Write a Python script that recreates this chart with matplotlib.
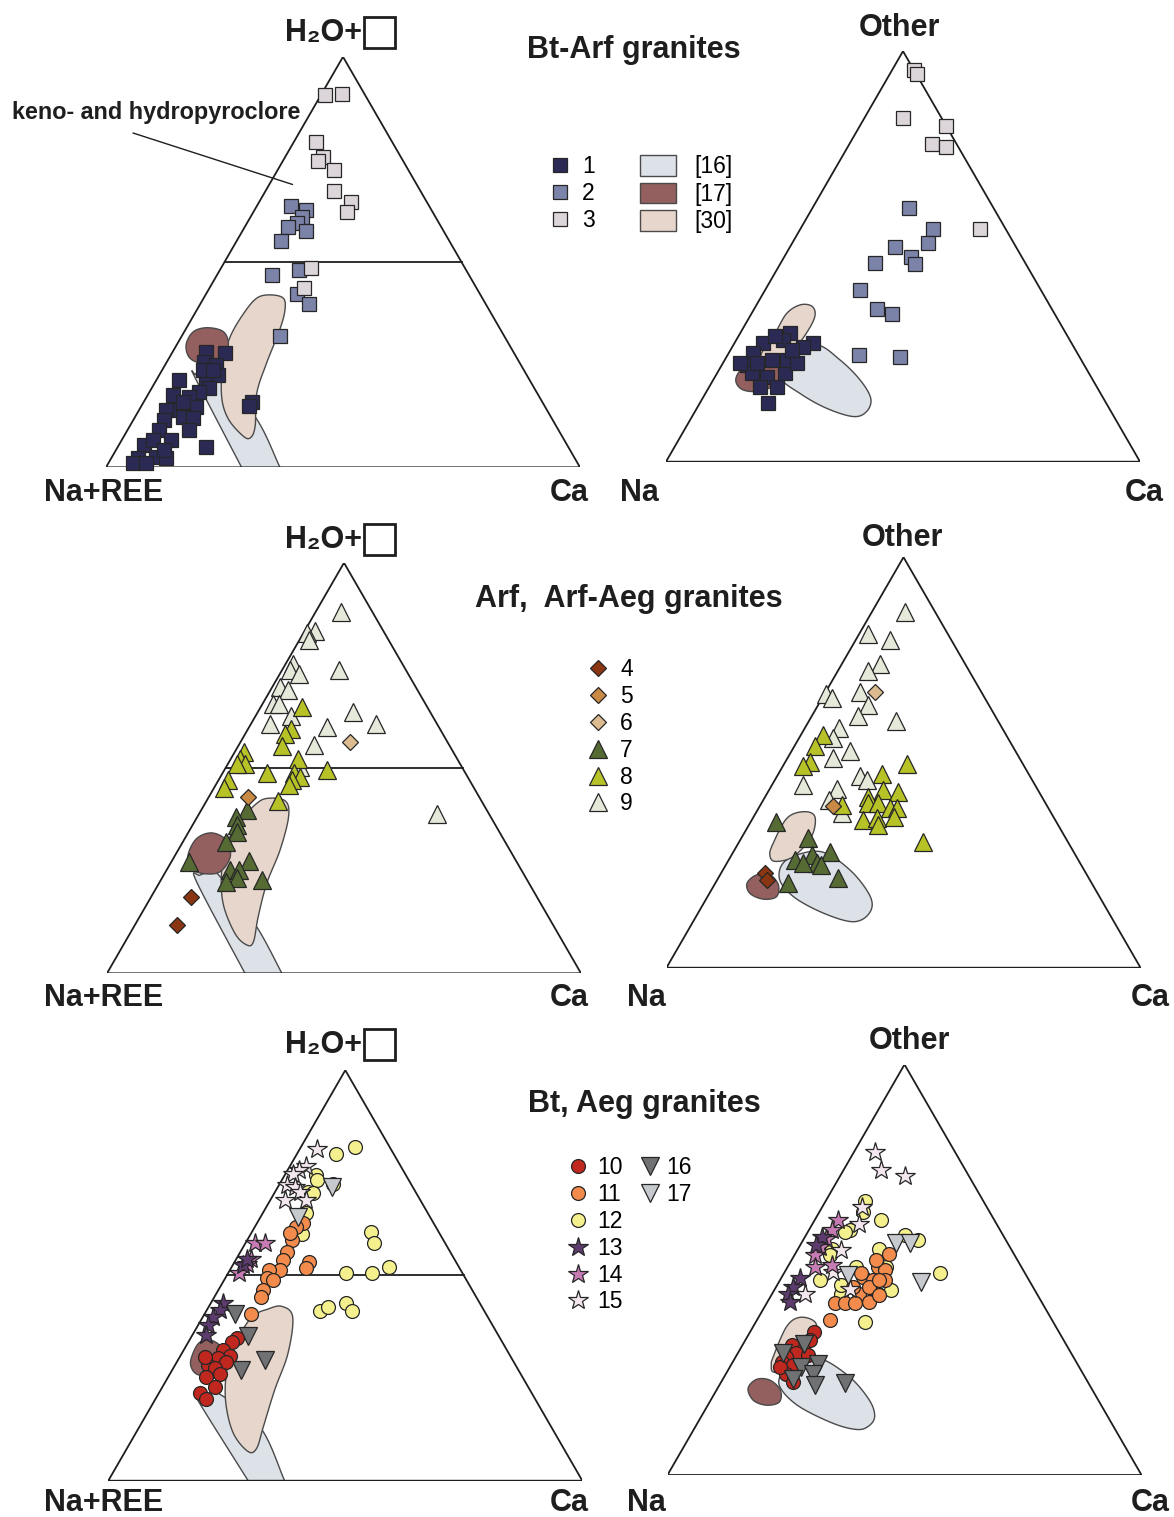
import numpy as np
import matplotlib.pyplot as plt
from matplotlib.lines import Line2D
from matplotlib.patches import Patch, Polygon, Rectangle

plt.rcParams['font.family'] = ['Liberation Sans', 'DejaVu Sans']

# ---------------------------------------------------------------
# Ternary compositions, each point = (Ca %, top apex %);
# the left apex (Na+REE or Na) is the remainder.
# ---------------------------------------------------------------

# Bt-Arf granites, Na+REE - Ca - H2O+vacancy
a1 = [(7.0, 28.2), (11.1, 27.8), (7.85, 25.7), (10.75, 24.9), (4.85, 21.3), (10.45, 21.3),
      (12.35, 22.5), (12.2, 19.2), (10.5, 18.4), (5.3, 17.6), (9.0, 17.2), (11.6, 14.8),
      (8.1, 14.0), (5.7, 14.0), (6.55, 11.5), (10.05, 12.3), (12.35, 11.9), (13.05, 9.1),
      (6.7, 9.1), (10.4, 6.65), (5.4, 5.4), (9.2, 2.6), (11.6, 2.2), (5.6, 2.2), (5.1, 1.0),
      (7.9, 1.0), (18.6, 5.0), (22.9, 16.0), (22.75, 14.9), (6.5, 6.65), (10.2, 4.2),
      (8.2, 16.0), (8.55, 23.7), (10.65, 23.7)]
a2 = [(7.2, 63.7), (10.8, 62.6), (10.9, 60.9), (10.4, 59.6), (9.2, 58.6), (13.3, 57.6),
      (9.3, 55.2), (11.6, 46.9), (16.7, 48.1), (19.3, 42.2), (22.9, 39.8), (20.7, 32.0)]
a3 = [(0.9, 90.7), (4.3, 90.9), (4.7, 79.2), (8.0, 75.5), (7.4, 74.7), (12.0, 72.4),
      (14.5, 67.4), (19.3, 64.6), (19.6, 62.3), (19.1, 48.5), (19.9, 43.6)]
a_f16 = [(33.4, -5), (41.3, -5), (36.7, 0), (25.3, 12.3), (11.9, 22.1), (10.3, 23.3),
         (8.0, 23.7), (7.6, 22.6), (8.0, 21.7), (28.6, 0)]
a_f17 = [(2.0, 29.8), (1.9, 33.0), (4.4, 34.0), (8.3, 33.0), (10.9, 29.8), (11.3, 26.1),
         (7.9, 25.3), (4.4, 26.6)]
a_f30 = [(13.6, 42.0), (16.8, 41.2), (18.6, 38.3), (19.9, 33.5), (21.2, 25.3), (22.8, 18.0),
         (26.5, 9.9), (26.8, 7.1), (24.7, 7.9), (19.8, 11.9), (15.8, 17.2), (12.0, 25.3),
         (10.3, 31.8), (10.3, 37.5), (11.2, 41.2)]
keno_pointer = (4.9, 68.9)

# Bt-Arf granites, Na - Ca - Other
b1 = [(14.5, 14.2), (10.5, 31.3), (16.7, 28.8), (9.9, 29.6), (6.1, 28.8), (5.2, 26.4),
      (5.2, 23.6), (7.35, 21.5), (10.9, 20.7), (14.2, 18.3), (14.4, 21.5), (9.9, 24.8),
      (13.1, 24.8), (15.6, 24.0), (15.0, 28.0), (10.65, 18.3), (12.9, 27.2), (3.6, 24.0),
      (7.1, 24.0), (7.75, 30.5)]
b2 = [(20.4, 61.7), (28.0, 56.6), (28.6, 53.2), (22.2, 52.4), (26.7, 49.9), (28.5, 48.2),
      (19.9, 48.5), (20.0, 41.8), (26.0, 37.1), (29.7, 36.0), (27.8, 26.0), (36.6, 25.6)]
b3 = [(4.6, 95.4), (5.7, 94.4), (8.0, 83.8), (18.1, 81.9), (17.5, 77.3), (20.7, 76.7),
      (37.9, 56.7)]
b_f16 = [(17.6, 28.4), (24.3, 24.8), (31.0, 19.9), (35.5, 15.4), (36.2, 12.2), (34.0, 11.0),
         (27.4, 13.0), (20.0, 16.6), (13.7, 20.7), (13.4, 25.6)]
b_f17 = [(4.5, 22.0), (6.0, 25.0), (10.0, 25.5), (13.5, 22.5), (14.0, 19.0), (11.0, 17.2),
         (7.5, 17.5), (5.0, 19.5)]
b_f30 = [(7.35, 31.3), (7.4, 36.1), (9.2, 38.2), (11.8, 37.9), (13.6, 35.7), (14.0, 32.1),
         (13.3, 27.2), (11.1, 23.1), (7.8, 24.0), (6.9, 27.2)]

# Arf, Arf-Aeg granites, Na+REE - Ca - H2O+vacancy
c4 = [(8.45, 18.7), (8.8, 11.8)]
c5 = [(8.3, 43.0)]
c6 = [(23.0, 56.4)]
c7 = [(9.65, 39.7), (8.15, 38.1), (9.35, 36.1), (10.15, 34.5), (9.1, 32.0), (3.7, 27.2),
      (16.35, 27.3), (13.45, 25.1), (15.35, 25.1), (15.85, 23.1), (13.95, 22.3), (21.35, 22.7)]
c8 = [(8.65, 64.9), (9.1, 59.6), (8.4, 58.4), (9.25, 55.3), (14.15, 52.3), (1.85, 53.9),
      (1.95, 52.3), (3.55, 51.1), (1.85, 51.1), (9.3, 48.8), (15.0, 48.8), (16.85, 47.9),
      (15.6, 47.0), (15.35, 45.9), (21.65, 49.5), (2.0, 47.2), (2.1, 45.2), (15.05, 41.9)]
c9 = [(5.4, 88.0), (2.2, 83.5), (0.75, 82.9), (2.05, 81.3), (12.0, 74.0), (1.5, 75.4),
      (1.7, 73.8), (4.0, 73.0), (1.6, 69.8), (3.6, 69.0), (2.15, 65.7), (3.45, 65.7),
      (7.45, 62.7), (4.0, 60.8), (20.15, 63.7), (16.35, 60.1), (26.3, 60.8), (15.75, 55.7),
      (15.6, 50.3), (50.25, 38.9)]
c_f16 = [(33.9, -5), (41.75, -5), (36.9, 0), (25.9, 11.35), (12.65, 23.1), (9.85, 24.5),
         (7.65, 23.9), (7.75, 22.3), (29.1, 0)]
c_f17 = [(2.7, 28.8), (2.5, 32.8), (5.0, 34.2), (9.0, 32.4), (11.8, 28.4), (11.45, 24.7),
         (8.15, 24.3), (5.05, 25.5)]
c_f30 = [(12.4, 42.6), (16.6, 42.0), (19.25, 38.1), (21.5, 30.0), (22.75, 21.9), (25.0, 13.8),
         (27.05, 7.7), (26.05, 6.9), (22.15, 9.7), (16.0, 17.0), (11.65, 25.1), (9.4, 32.4),
         (9.75, 37.3), (10.7, 41.0)]

# Arf, Arf-Aeg granites, Na - Ca - Other
d4 = [(9.3, 23.0), (10.6, 21.4)]
d5 = [(15.45, 39.3)]
d6 = [(10.45, 67.1)]
d7 = [(5.4, 35.6), (14.05, 31.5), (13.95, 26.3), (16.85, 27.5), (19.0, 25.4), (20.35, 28.3),
      (16.2, 25.4), (15.4, 20.6), (25.2, 21.8), (20.2, 25.0)]
d8 = [(4.75, 56.7), (4.35, 53.9), (5.2, 50.2), (4.1, 49.2), (21.8, 47.2), (25.9, 49.6),
      (23.95, 43.3), (27.45, 42.9), (21.75, 41.7), (22.55, 40.1), (24.65, 40.1), (27.75, 38.9),
      (29.15, 38.9), (23.5, 36.0), (26.2, 36.4), (27.3, 34.8), (29.5, 36.8), (17.15, 39.7),
      (38.85, 30.7)]
d9 = [(7.1, 86.6), (1.95, 81.3), (7.3, 79.8), (8.05, 74.1), (6.5, 72.2), (0.3, 66.7),
      (2.05, 65.7), (7.25, 67.1), (10.55, 64.1), (9.8, 61.2), (18.4, 60.2), (7.1, 58.4),
      (7.25, 55.9), (12.35, 52.7), (9.65, 51.1), (6.6, 44.6), (17.5, 46.6), (19.4, 45.8),
      (14.15, 43.5), (13.75, 40.9), (18.2, 37.6)]
d_f16 = [(12.25, 26.3), (18.25, 28.3), (26.8, 23.8), (34.35, 17.3), (36.15, 13.3),
         (33.8, 11.2), (26.45, 13.3), (18.15, 17.3), (12.9, 21.8)]
d_f17 = [(6.7, 20.6), (7.7, 22.6), (10.5, 22.6), (13.5, 20.2), (14.55, 17.3), (12.05, 16.7),
         (8.55, 18.1)]
d_f30 = [(7.35, 30.3), (7.2, 36.4), (9.9, 38.0), (12.9, 36.8), (14.6, 32.0), (13.25, 27.1),
         (9.95, 25.9), (8.05, 27.5)]

# Bt, Aeg granites, Na+REE - Ca - H2O+vacancy
e10 = [(9.75, 34.7), (9.1, 33.8), (8.3, 31.8), (10.5, 30.4), (8.2, 30.0), (10.4, 29.0),
       (7.0, 28.2), (8.8, 27.4), (10.45, 26.1), (8.05, 25.3), (11.05, 22.9), (8.65, 21.3),
       (10.6, 20.0), (5.3, 30.2)]
e11 = [(9.75, 62.7), (8.75, 61.9), (9.4, 58.6), (9.7, 55.8), (10.05, 53.7), (10.55, 51.3),
       (8.25, 51.3), (8.75, 49.3), (10.35, 48.9), (9.5, 46.4), (9.9, 44.8), (15.75, 53.3),
       (15.95, 51.7), (9.9, 40.6), (8.15, 60.3)]
e12 = [(8.15, 79.7), (11.4, 81.2), (6.7, 74.4), (7.5, 73.2), (11.2, 72.4), (7.0, 70.4),
       (8.2, 70.0), (9.25, 65.1), (10.7, 60.2), (25.2, 60.6), (27.1, 57.8), (33.15, 52.1),
       (24.85, 50.5), (30.25, 50.7), (23.9, 41.4), (25.2, 42.4), (28.45, 43.3), (30.7, 41.4)]
e13 = [(2.25, 52.5), (2.15, 54.1), (2.6, 43.2), (2.7, 41.6), (2.15, 39.9), (2.15, 37.9),
       (2.95, 35.5)]
e14 = [(1.9, 58.0), (4.0, 58.0), (3.15, 54.1), (2.75, 52.9), (2.35, 50.5)]
e15 = [(3.75, 80.7), (3.5, 76.6), (2.4, 75.6), (1.5, 74.8), (1.6, 72.0), (3.6, 71.6),
       (5.2, 70.4), (2.95, 68.5), (7.55, 68.3)]
e16 = [(6.35, 40.7), (11.9, 35.2), (18.3, 29.4), (14.65, 26.9)]
e17 = [(11.3, 71.6), (7.95, 64.3)]
e_f16 = [(34.7, -5), (41.7, -5), (37.2, 0), (25.45, 13.1), (12.55, 21.3), (10.25, 20.9),
         (9.4, 19.8), (9.9, 18.8), (29.5, 0)]
e_f17 = [(2.7, 29.4), (2.3, 33.4), (4.25, 34.3), (7.5, 32.5), (8.7, 29.0), (8.75, 26.1),
         (6.45, 25.7), (4.35, 26.9)]
e_f30 = [(12.55, 41.7), (15.25, 42.5), (18.95, 39.9), (22.4, 31.0), (24.05, 22.1),
         (26.15, 13.1), (27.35, 7.9), (25.95, 7.1), (20.65, 11.5), (15.4, 18.8), (11.85, 26.1),
         (10.1, 32.6), (10.05, 38.3), (10.95, 40.7)]

# Bt, Aeg granites, Na - Ca - Other
f10 = [(13.45, 34.9), (13.6, 32.8), (10.4, 31.6), (13.4, 30.4), (12.4, 29.6), (10.7, 28.8),
       (15.1, 29.2), (10.3, 27.6), (13.1, 26.8), (12.75, 24.7), (15.15, 22.7), (10.5, 26.4)]
f11 = [(19.85, 53.9), (19.05, 50.7), (20.85, 49.9), (17.05, 48.3), (22.1, 47.4), (19.6, 47.4),
       (22.3, 44.2), (18.4, 44.2), (19.7, 45.8), (16.2, 45.8), (14.4, 41.8), (16.5, 41.8),
       (18.6, 41.8), (21.5, 42.2), (22.8, 43.8), (15.35, 37.7), (16.35, 49.1), (21.0, 47.4),
       (17.85, 52.3)]
f12 = [(8.25, 66.7), (9.15, 64.1), (14.1, 62.0), (8.6, 59.6), (7.8, 59.2), (7.05, 55.1),
       (7.45, 53.5), (17.15, 55.1), (20.8, 58.4), (24.2, 57.2), (14.45, 50.7), (8.4, 47.4),
       (14.6, 44.2), (24.7, 45.0), (32.85, 49.1), (22.95, 37.3), (20.75, 50.7), (13.6, 46.2)]
f13 = [(3.95, 47.9), (3.6, 45.8), (3.4, 44.2), (4.7, 42.2), (3.5, 58.0), (3.4, 56.0)]
f14 = [(4.9, 62.2), (4.8, 59.6), (4.7, 57.6), (4.3, 55.6), (4.35, 53.5), (5.75, 50.7),
       (9.05, 51.1)]
f15 = [(4.35, 78.7), (7.9, 74.4), (13.8, 72.8), (8.45, 65.3), (9.8, 61.2), (9.35, 54.7),
       (10.15, 49.5), (15.7, 45.4), (7.0, 44.0)]
f16 = [(12.8, 32.0), (9.6, 29.6), (14.9, 26.4), (18.3, 27.0), (18.25, 24.7), (14.75, 23.5),
       (20.15, 21.9), (26.25, 22.3)]
f17 = [(20.0, 56.4), (22.9, 56.4), (13.75, 48.7), (30.0, 47.0)]
f_f16 = [(12.7, 27.6), (17.9, 28.4), (26.45, 23.9), (33.5, 18.2), (36.6, 14.2), (36.4, 11.8),
         (34.25, 11.1), (28.6, 12.6), (19.6, 16.6), (13.75, 20.7), (11.75, 23.9)]
f_f17 = [(6.45, 21.1), (7.15, 23.3), (10.05, 23.1), (13.45, 20.7), (14.7, 17.8), (12.4, 17.0),
         (9.0, 18.2)]
f_f30 = [(7.9, 28.8), (7.05, 36.1), (8.7, 38.4), (12.45, 37.3), (14.55, 33.7), (14.5, 29.6),
         (12.35, 25.5), (9.75, 25.1), (8.5, 26.8)]

# marker styles of the legend groups
styles = {
    '1': ('s', '#2b2a54', 10.5), '2': ('s', '#7b83a9', 10.5), '3': ('s', '#dcd6da', 10.5),
    '4': ('D', '#8a3612', 8.5), '5': ('D', '#c98a46', 8.5), '6': ('D', '#dcbb90', 8.5),
    '7': ('^', '#566b34', 12.5), '8': ('^', '#b7c226', 12.5), '9': ('^', '#e5e9da', 12.5),
    '10': ('o', '#c0281f', 10), '11': ('o', '#f28b4b', 10), '12': ('o', '#f4f08e', 10),
    '13': ('*', '#5d3b6e', 15), '14': ('*', '#c77bb4', 15), '15': ('*', '#f3e6ee', 15),
    '16': ('v', '#6f7173', 12.5), '17': ('v', '#c6c9cd', 12.5),
}
fields = {'[16]': '#dde1e8', '[17]': '#93605f', '[30]': '#e6d6cc'}

W, H = 1174, 1517
S3 = np.sqrt(3) / 2


def P(x, y):
    return x / W, 1 - y / H


def tern(pts):
    p = np.asarray(pts, float) / 100
    return p[:, 0] + p[:, 1] / 2, p[:, 1] * S3


def smooth(xy, n=24):
    out = []
    m = len(xy)
    s = np.linspace(0, 1, n, endpoint=False)[:, None]
    for i in range(m):
        p0, p1, p2, p3 = xy[i - 1], xy[i], xy[(i + 1) % m], xy[(i + 2) % m]
        out.append(0.5 * (2 * p1 + (-p0 + p2) * s + (2 * p0 - 5 * p1 + 4 * p2 - p3) * s ** 2
                          + (-p0 + 3 * p1 - 3 * p2 + p3) * s ** 3))
    return np.vstack(out)


fig = plt.figure(figsize=(11.74, 15.17), dpi=100)


def make_ax(x0, y0, halfline):
    ax = fig.add_axes([x0 / W, 1 - y0 / H, 474 / W, 474 * S3 / H])
    ax.set_xlim(0, 1)
    ax.set_ylim(0, S3)
    ax.axis('off')
    tri = Polygon([(0, 0), (1, 0), (0.5, S3)], closed=True, fill=False,
                  ec='#1e1e1e', lw=1.3, zorder=2)
    ax.add_patch(tri)
    if halfline:
        ax.plot([0.25, 0.75], [S3 / 2, S3 / 2], color='#1e1e1e', lw=1.3, zorder=2)
    return ax, tri


def draw_field(ax, tri, pts, key):
    x, y = tern(pts)
    xy = smooth(np.column_stack([x, y]))
    p = Polygon(xy, closed=True, fc=fields[key], ec='#4a4a4a', lw=1.0, zorder=1)
    ax.add_patch(p)
    p.set_clip_path(tri)


def draw_series(ax, pts, key):
    m, c, s = styles[key]
    x, y = tern(pts)
    ax.plot(x, y, ls='none', marker=m, ms=s, mfc=c, mec='#262626', mew=0.9,
            clip_on=False, zorder=3)


panels = [
    ((106, 467.3), True, [(a_f16, '[16]'), (a_f30, '[30]'), (a_f17, '[17]')],
     [(a1, '1'), (a2, '2'), (a3, '3')]),
    ((666, 461.7), False, [(b_f16, '[16]'), (b_f17, '[17]'), (b_f30, '[30]')],
     [(b1, '1'), (b2, '2'), (b3, '3')]),
    ((107, 973.3), True, [(c_f16, '[16]'), (c_f30, '[30]'), (c_f17, '[17]')],
     [(c9, '9'), (c8, '8'), (c7, '7'), (c6, '6'), (c5, '5'), (c4, '4')]),
    ((666.5, 967.7), False, [(d_f16, '[16]'), (d_f30, '[30]'), (d_f17, '[17]')],
     [(d9, '9'), (d8, '8'), (d7, '7'), (d6, '6'), (d5, '5'), (d4, '4')]),
    ((108.3, 1480.7), True, [(e_f16, '[16]'), (e_f30, '[30]'), (e_f17, '[17]')],
     [(e12, '12'), (e11, '11'), (e15, '15'), (e14, '14'), (e13, '13'), (e17, '17'),
      (e16, '16'), (e10, '10')]),
    ((667.5, 1475), False, [(f_f16, '[16]'), (f_f30, '[30]'), (f_f17, '[17]')],
     [(f12, '12'), (f11, '11'), (f15, '15'), (f14, '14'), (f13, '13'), (f17, '17'),
      (f10, '10'), (f16, '16')]),
]

axes = []
for (x0, y0), half, flds, sers in panels:
    ax, tri = make_ax(x0, y0, half)
    for pts, key in flds:
        draw_field(ax, tri, pts, key)
    for pts, key in sers:
        draw_series(ax, pts, key)
    axes.append(ax)

# pointer for keno- and hydropyrochlore
kx, ky = tern([keno_pointer])
axes[0].annotate('', xy=(kx[0], ky[0]), xytext=P(133, 133), textcoords='figure fraction',
                 arrowprops=dict(arrowstyle='-', lw=1.0, color='#1e1e1e',
                                 shrinkA=0, shrinkB=0))
fig.text(*P(12, 113), 'keno- and hydropyroclore', fontsize=16.8, fontweight='bold',
         ha='left', va='center', color='#1e1e1e')

# apex labels
lab = dict(fontsize=22, fontweight='bold', color='#1e1e1e', va='center', ha='center')
for yy, ycorner, xna, xca in [(33, 493, 639, 1144), (540, 998, 646, 1150),
                              (1045, 1503, 646, 1150)]:
    fig.text(*P(362, yy), 'H₂O+', **{**lab, 'ha': 'right'})
    fig.add_artist(Rectangle(P(364, yy + 15), 31 / W, 31 / H, transform=fig.transFigure,
                             fill=False, ec='#1e1e1e', lw=2))
    fig.text(*P(104, ycorner), 'Na+REE', **lab)
    fig.text(*P(569, ycorner), 'Ca', **lab)
    fig.text(*P(xna, ycorner), 'Na', **lab)
    fig.text(*P(xca, ycorner), 'Ca', **lab)
fig.text(*P(899, 28), 'Other', **lab)
fig.text(*P(902, 538), 'Other', **lab)
fig.text(*P(909, 1041), 'Other', **lab)

# group titles
fig.text(*P(634, 50), 'Bt-Arf granites', **lab)
fig.text(*P(629, 599), 'Arf,  Arf-Aeg granites', **lab)
fig.text(*P(644, 1104), 'Bt, Aeg granites', **lab)


def handles(keys, scale=1.0):
    return [Line2D([], [], ls='none', marker=styles[k][0], ms=styles[k][2] * scale,
                   mfc=styles[k][1], mec='#262626', mew=0.9) for k in keys]


leg = dict(frameon=False, fontsize=16.5, loc='upper left', borderpad=0, borderaxespad=0,
           handlelength=1.0, handletextpad=0.45, labelspacing=0.17)
fig.legend(handles(['1', '2', '3'], 1.0), ['1', '2', '3'], bbox_to_anchor=P(549, 155), **leg)
fig.legend([Patch(fc=fields[k], ec='#4a4a4a', lw=1.0) for k in fields], list(fields),
           bbox_to_anchor=P(640, 155), **{**leg, 'handlelength': 1.57, 'handleheight': 1.0,
                                           'handletextpad': 0.8, 'labelspacing': 0.2})
k2 = ['4', '5', '6', '7', '8', '9']
fig.legend(handles(k2), k2, bbox_to_anchor=P(587, 658), **leg)
k3 = ['10', '11', '12', '13', '14', '15']
fig.legend(handles(k3), k3, bbox_to_anchor=P(567, 1156), **{**leg, 'handletextpad': 0.3})
k4 = ['16', '17']
fig.legend(handles(k4), k4, bbox_to_anchor=P(639, 1156), **{**leg, 'handletextpad': 0.2})

fig.savefig('out.png', dpi=100, facecolor='white')
